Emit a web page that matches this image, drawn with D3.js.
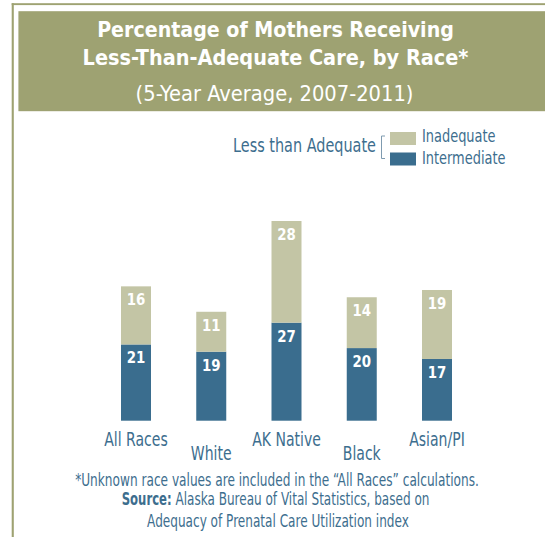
<!DOCTYPE html>
<html>
<head>
<meta charset="utf-8">
<script src="https://cdn.jsdelivr.net/npm/d3@7"></script>
<style>
  body { margin: 0; background: #fff; }
  svg { display: block; }
  text { font-family: "DejaVu Sans Condensed", "Liberation Sans Narrow", sans-serif; }
</style>
</head>
<body>
<svg width="545" height="537"></svg>
<script>
var races = ["All Races", "White", "AK Native", "Black", "Asian/PI"];
var intermediate = [21, 19, 27, 20, 17];
var inadequate = [16, 11, 28, 14, 19];
var seriesNames = ["Inadequate", "Intermediate"];

var olive = "#9ea272",
    blue = "#3a6d8e",
    beige = "#c3c5a5",
    ink = "#3d6e8e";

var svg = d3.select("svg"),
    width = +svg.attr("width"),
    height = +svg.attr("height");

// narrow the text with a horizontal scale, to look like a condensed face
function condense(node, k) {
    var t = d3.select(node),
        x0 = +t.attr("x"),
        y0 = +t.attr("y");
    t.attr("x", 0).attr("y", 0)
        .attr("transform", "translate(" + x0 + "," + y0 + ") scale(" + k + ",1)");
}
function fit(sel, w) {
    sel.each(function () { condense(this, w / this.getComputedTextLength()); });
}
function squeeze(sel, k) {
    sel.each(function () { condense(this, k); });
}

// frame lines
svg.append("rect").attr("x", 11.7).attr("y", 3.2).attr("width", width).attr("height", 1.9).attr("fill", olive);
svg.append("rect").attr("x", 11.7).attr("y", 3.2).attr("width", 2.1).attr("height", height).attr("fill", olive);

// title box
svg.append("rect")
    .attr("x", 18.4).attr("y", 11.2)
    .attr("width", width - 18.4).attr("height", 100)
    .attr("fill", olive);

var cx = 275.5;
svg.append("text").attr("x", cx).attr("y", 37)
    .attr("text-anchor", "middle").attr("fill", "#fff")
    .attr("font-size", 21.5).attr("font-weight", "bold")
    .text("Percentage of Mothers Receiving")
    .call(fit, 357);
svg.append("text").attr("x", cx).attr("y", 65)
    .attr("text-anchor", "middle").attr("fill", "#fff")
    .attr("font-size", 21.5).attr("font-weight", "bold")
    .text("Less-Than-Adequate Care, by Race*")
    .call(fit, 386);
svg.append("text").attr("x", cx - 1).attr("y", 101)
    .attr("text-anchor", "middle").attr("fill", "#fff")
    .attr("font-size", 21)
    .text("(5-Year Average, 2007-2011)")
    .call(fit, 278);

// scales
var x = d3.scalePoint()
    .domain(races)
    .range([136, 437]);

var y = d3.scaleLinear()
    .domain([0, 55])
    .range([420.7, 221]);

var barW = 30;

var g = svg.append("g");

// intermediate (bottom)
g.selectAll(".inter")
    .data(races)
    .enter().append("rect")
    .attr("class", "inter")
    .attr("x", function (d) { return x(d) - barW / 2; })
    .attr("y", function (d, i) { return y(intermediate[i]); })
    .attr("width", barW)
    .attr("height", function (d, i) { return y(0) - y(intermediate[i]); })
    .attr("fill", blue);

// inadequate (stacked on top)
g.selectAll(".inad")
    .data(races)
    .enter().append("rect")
    .attr("class", "inad")
    .attr("x", function (d) { return x(d) - barW / 2; })
    .attr("y", function (d, i) { return y(intermediate[i] + inadequate[i]); })
    .attr("width", barW)
    .attr("height", function (d, i) { return y(intermediate[i]) - y(intermediate[i] + inadequate[i]); })
    .attr("fill", beige);

// value labels
g.selectAll(".lblInter")
    .data(races)
    .enter().append("text")
    .attr("x", function (d) { return x(d); })
    .attr("y", function (d, i) { return y(intermediate[i]) + 19; })
    .attr("text-anchor", "middle")
    .attr("fill", "#fff").attr("font-weight", "bold").attr("font-size", 16.5)
    .text(function (d, i) { return intermediate[i]; })
    .call(squeeze, 0.9);

g.selectAll(".lblInad")
    .data(races)
    .enter().append("text")
    .attr("x", function (d) { return x(d); })
    .attr("y", function (d, i) { return y(intermediate[i] + inadequate[i]) + 19; })
    .attr("text-anchor", "middle")
    .attr("fill", "#fff").attr("font-weight", "bold").attr("font-size", 16.5)
    .text(function (d, i) { return inadequate[i]; })
    .call(squeeze, 0.9);

// category labels, staggered
g.selectAll(".cat")
    .data(races)
    .enter().append("text")
    .attr("x", function (d) { return x(d); })
    .attr("y", function (d, i) { return i % 2 ? 459.5 : 446; })
    .attr("text-anchor", "middle")
    .attr("fill", ink).attr("font-size", 19.5)
    .text(function (d) { return d; })
    .call(squeeze, 0.8);

// legend
var lg = svg.append("g");
lg.append("text").attr("x", 376).attr("y", 151.7)
    .attr("text-anchor", "end").attr("fill", ink).attr("font-size", 19)
    .text("Less than Adequate")
    .call(fit, 143);
lg.append("path")
    .attr("d", "M385,136 H381.5 V158.5 H385")
    .attr("fill", "none").attr("stroke", "#7f9bb0").attr("stroke-width", 1);
var legColors = [beige, blue];
lg.selectAll(".sw")
    .data(seriesNames)
    .enter().append("rect")
    .attr("x", 390).attr("y", function (d, i) { return 132 + i * 20.5; })
    .attr("width", 26).attr("height", 13)
    .attr("fill", function (d, i) { return legColors[i]; });
lg.selectAll(".lt")
    .data(seriesNames)
    .enter().append("text")
    .attr("x", 422).attr("y", function (d, i) { return 142.3 + i * 22; })
    .attr("fill", ink).attr("font-size", 18)
    .text(function (d) { return d; })
    .call(squeeze, 0.8);

// footnotes
svg.append("text").attr("x", 277).attr("y", 485.7)
    .attr("text-anchor", "middle").attr("fill", ink).attr("font-size", 17)
    .text("*Unknown race values are included in the \u201cAll Races\u201d calculations.")
    .call(fit, 404);
svg.append("text").attr("x", 121.7).attr("y", 505)
    .attr("fill", ink).attr("font-size", 17).attr("font-weight", "bold")
    .text("Source:")
    .call(fit, 50);
svg.append("text").attr("x", 175.5).attr("y", 505)
    .attr("fill", ink).attr("font-size", 17)
    .text("Alaska Bureau of Vital Statistics, based on")
    .call(fit, 254);
svg.append("text").attr("x", 278).attr("y", 526.5)
    .attr("text-anchor", "middle").attr("fill", ink).attr("font-size", 17)
    .text("Adequacy of Prenatal Care Utilization index")
    .call(fit, 262);
</script>
</body>
</html>
